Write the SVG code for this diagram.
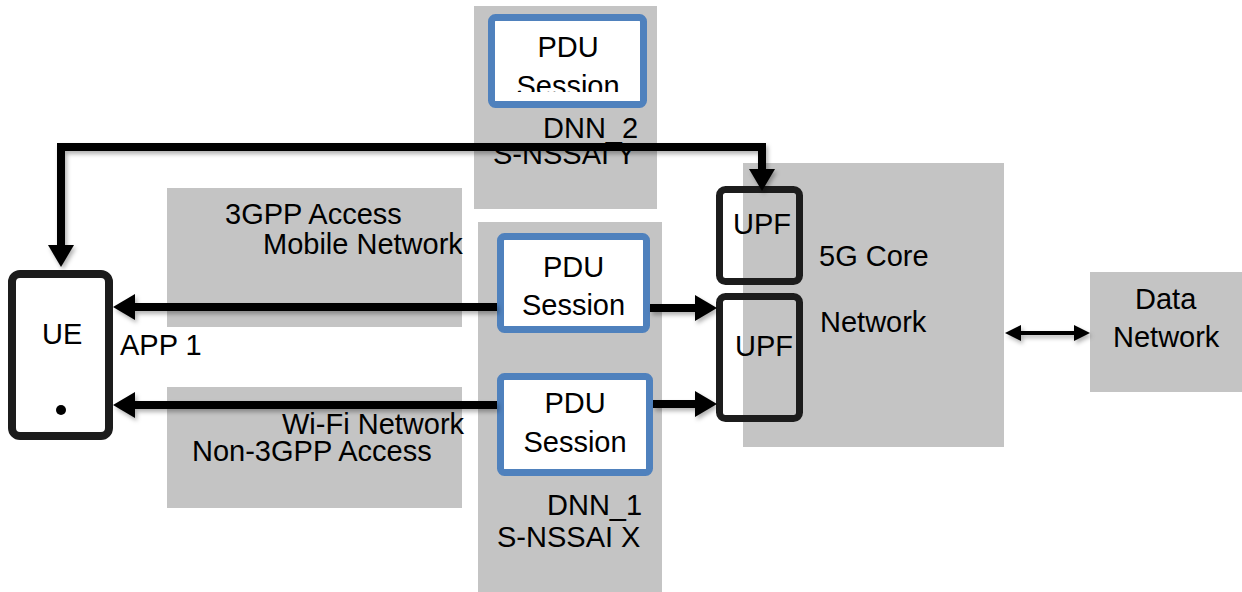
<svg xmlns="http://www.w3.org/2000/svg" width="1242" height="592" viewBox="0 0 1242 592">
<style>
.bg{fill:#c4c4c4}
.t{font-family:"Liberation Sans",Arial,sans-serif;font-size:29px;fill:#000}
.pdu{fill:#fff;stroke:#4f81bd;stroke-width:7}
.dark{fill:none;stroke:#1c1c1c;stroke-width:7}
.c{fill:none;stroke:#000;stroke-width:8}
.c2{fill:none;stroke:#000;stroke-width:4}
</style>
<defs>
<marker id="ah" markerUnits="userSpaceOnUse" markerWidth="22" markerHeight="26" refX="2" refY="13" orient="auto-start-reverse" viewBox="0 0 22 26">
<path d="M0,0 L22,13 L0,26 z" fill="#000"/>
</marker>
<marker id="ahs" markerUnits="userSpaceOnUse" markerWidth="16" markerHeight="16" refX="2" refY="8" orient="auto-start-reverse" viewBox="0 0 16 16">
<path d="M0,0 L16,8 L0,16 z" fill="#000"/>
</marker>
<filter id="sh" x="-10%" y="-50%" width="120%" height="200%">
<feDropShadow dx="2" dy="3" stdDeviation="2" flood-color="#000" flood-opacity="0.3"/>
</filter>
<clipPath id="clipTop"><rect x="495" y="21" width="145" height="71"/></clipPath>
</defs>

<g id="dnn2">
<rect class="bg" x="474" y="6" width="183" height="203"/>
<text class="t" x="543" y="138">DNN_2</text>
<text class="t" x="493" y="164">S-NSSAI Y</text>
</g>
<g id="access3gpp">
<rect class="bg" x="167" y="188" width="295" height="139"/>
<text class="t" x="225" y="224">3GPP Access</text>
<text class="t" x="263" y="254">Mobile Network</text>
</g>
<g id="non3gpp">
<rect class="bg" x="167" y="387" width="295" height="121"/>
<text class="t" x="282" y="434">Wi-Fi Network</text>
<text class="t" x="192" y="461">Non-3GPP Access</text>
</g>
<g id="dnn1">
<rect class="bg" x="478" y="222" width="184" height="370"/>
<text class="t" x="547" y="515">DNN_1</text>
<text class="t" x="497" y="547">S-NSSAI X</text>
</g>
<g id="core5g">
<rect class="bg" x="743" y="163" width="261" height="284"/>
<text class="t" x="819" y="266">5G Core</text>
<text class="t" x="820" y="332">Network</text>
</g>
<g id="datanetwork">
<rect class="bg" x="1090" y="272" width="152" height="120"/>
<text class="t" x="1135" y="309">Data</text>
<text class="t" x="1113" y="347">Network</text>
</g>

<g id="pdu-top">
<rect class="pdu" x="491.5" y="17.5" width="152" height="87" rx="4"/>
<text class="t" x="568" y="57" text-anchor="middle">PDU</text>
<text class="t" x="568" y="96" text-anchor="middle" clip-path="url(#clipTop)">Session</text>
</g>
<g id="pdu-mid">
<rect class="pdu" x="500.5" y="236.5" width="146" height="93" rx="4"/>
<text class="t" x="573.5" y="277" text-anchor="middle">PDU</text>
<text class="t" x="573.5" y="315" text-anchor="middle">Session</text>
</g>
<g id="pdu-low">
<rect class="pdu" x="500.5" y="376.5" width="149" height="96" rx="4"/>
<text class="t" x="575" y="413" text-anchor="middle">PDU</text>
<text class="t" x="575" y="452" text-anchor="middle">Session</text>
</g>

<g id="upf-top">
<rect class="dark" x="719.5" y="189.5" width="80" height="92" rx="6"/>
<text class="t" x="733" y="234">UPF</text>
</g>
<g id="upf-low">
<rect class="dark" x="719.5" y="296.5" width="80" height="122" rx="6"/>
<text class="t" x="735" y="356">UPF</text>
</g>

<g id="ue">
<rect x="12" y="274" width="97" height="162" rx="8" fill="#fff" stroke="#1c1c1c" stroke-width="8"/>
<text class="t" x="42" y="344">UE</text>
<circle cx="61" cy="410" r="5" fill="#000"/>
<text class="t" x="120" y="355">APP 1</text>
</g>

<g id="connectors" filter="url(#sh)">
<path class="c" d="M61,247 V147 H762 V171" marker-start="url(#ah)" marker-end="url(#ah)"/>
<path class="c" d="M497,307 H133" marker-end="url(#ah)"/>
<path class="c" d="M650,308 H697" marker-end="url(#ah)"/>
<path class="c" d="M497,405 H133" marker-end="url(#ah)"/>
<path class="c" d="M653,404 H697" marker-end="url(#ah)"/>
<path class="c2" d="M1019,333 H1076" marker-start="url(#ahs)" marker-end="url(#ahs)"/>
</g>
</svg>
